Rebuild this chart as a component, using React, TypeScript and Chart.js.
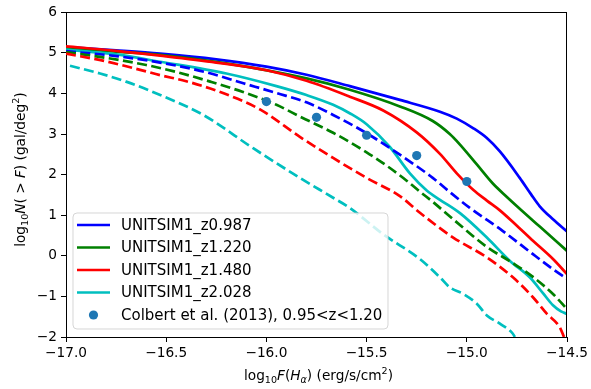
import React, { useEffect, useRef } from "react";
import { Chart, registerables } from "chart.js";
Chart.register(...registerables);

const FONT = '"DejaVu Sans"';
const FS = 13.7;
const LEG_FS = 15;

// ---------- data ----------
const xTicks = [-17.0, -16.5, -16.0, -15.5, -15.0, -14.5];
const yTicks = [-2, -1, 0, 1, 2, 3, 4, 5, 6];

const legendLabels = [
  "UNITSIM1_z0.987",
  "UNITSIM1_z1.220",
  "UNITSIM1_z1.480",
  "UNITSIM1_z2.028",
  "Colbert et al. (2013), 0.95<z<1.20",
];

const blueSolidX = [-17.0, -16.75, -16.53, -16.25, -16.0, -15.8, -15.584, -15.334, -15.134, -15.05, -14.967, -14.9, -14.835, -14.736, -14.68, -14.636, -14.57, -14.5];
const blueSolidY = [5.14, 5.06, 4.98, 4.84, 4.66, 4.46, 4.18, 3.84, 3.55, 3.38, 3.14, 2.9, 2.57, 1.92, 1.52, 1.22, 0.9, 0.6];

const greenSolidX = [-17.0, -16.75, -16.53, -16.2, -15.8, -15.584, -15.334, -15.17, -15.085, -15.034, -14.95, -14.87, -14.8, -14.736, -14.636, -14.5];
const greenSolidY = [5.12, 5.03, 4.95, 4.74, 4.37, 4.09, 3.68, 3.32, 3.0, 2.74, 2.25, 1.78, 1.45, 1.16, 0.72, 0.12];

const redSolidX = [-17.0, -16.75, -16.53, -16.25, -16.0, -15.8, -15.584, -15.417, -15.25, -15.134, -15.05, -14.967, -14.9, -14.835, -14.75, -14.67, -14.57, -14.5];
const redSolidY = [5.16, 5.05, 4.93, 4.76, 4.57, 4.31, 3.92, 3.58, 3.04, 2.51, 2.03, 1.62, 1.36, 1.12, 0.74, 0.37, -0.08, -0.45];

const cyanSolidX = [-17.0, -16.75, -16.53, -16.2, -15.95, -15.8, -15.667, -15.58, -15.5, -15.384, -15.284, -15.2, -15.134, -15.034, -14.9, -14.786, -14.686, -14.62, -14.57, -14.53, -14.5];
const cyanSolidY = [5.08, 4.96, 4.78, 4.49, 4.18, 3.96, 3.72, 3.5, 3.24, 2.68, 2.03, 1.61, 1.38, 1.05, 0.45, -0.12, -0.53, -0.92, -1.22, -1.37, -1.43];

const blueDashX = [-17.0, -16.75, -16.53, -16.3, -16.115, -15.95, -15.8, -15.667, -15.5, -15.334, -15.17, -15.085, -14.985, -14.82, -14.67, -14.57, -14.5];
const blueDashY = [5.04, 4.92, 4.76, 4.52, 4.25, 4.01, 3.78, 3.47, 3.02, 2.49, 1.92, 1.57, 1.18, 0.61, 0.04, -0.33, -0.57];

const greenDashX = [-17.0, -16.78, -16.6, -16.45, -16.28, -16.12, -15.95, -15.833, -15.667, -15.5, -15.4, -15.3, -15.234, -15.17, -15.068, -14.9, -14.77, -14.67, -14.57, -14.5];
const greenDashY = [5.02, 4.86, 4.7, 4.53, 4.29, 4.04, 3.72, 3.43, 3.03, 2.55, 2.22, 1.85, 1.58, 1.33, 0.9, 0.22, -0.18, -0.52, -0.94, -1.31];

const redDashX = [-17.0, -16.81, -16.63, -16.53, -16.4, -16.28, -16.15, -16.03, -15.833, -15.667, -15.5, -15.334, -15.234, -15.068, -14.9, -14.77, -14.67, -14.6, -14.536, -14.515];
const redDashY = [4.98, 4.8, 4.58, 4.45, 4.3, 4.12, 3.88, 3.6, 2.93, 2.41, 1.92, 1.47, 1.06, 0.45, -0.04, -0.53, -1.02, -1.43, -1.76, -2.0];

const cyanDashX = [-16.98, -16.83, -16.7, -16.53, -16.315, -16.066, -15.833, -15.667, -15.584, -15.417, -15.234, -15.134, -15.084, -15.017, -14.95, -14.9, -14.835, -14.77, -14.76];
const cyanDashY = [4.68, 4.49, 4.29, 3.96, 3.47, 2.65, 1.92, 1.43, 1.18, 0.53, -0.08, -0.53, -0.78, -0.94, -1.18, -1.47, -1.67, -1.92, -2.0];

const colbertX = [-16.0, -15.75, -15.5, -15.25, -15.0];
const colbertY = [3.8, 3.41, 2.97, 2.47, 1.83];

// ---------- styles ----------
const BLUE = "#0000ff";
const GREEN = "#008000";
const RED = "#ff0000";
const CYAN = "#00bfbf";
const DOT = "#1f77b4";
const LW = 2.7;
const DASH = [10, 4.4];

const pts = (xs: number[], ys: number[]) => xs.map((x, i) => ({ x, y: ys[i] }));

const lineDs = (xs: number[], ys: number[], color: string, dashed: boolean, order: number) => ({
  data: pts(xs, ys),
  showLine: true,
  borderColor: color,
  backgroundColor: color,
  borderWidth: LW,
  borderDash: dashed ? DASH : [],
  borderCapStyle: "butt",
  borderJoinStyle: "round",
  pointRadius: 0,
  pointHoverRadius: 0,
  fill: false,
  cubicInterpolationMode: "monotone",
  order,
});

type Seg = { t: string; it?: boolean; sub?: boolean; sup?: boolean };

function segFont(s: Seg) {
  const size = s.sub || s.sup ? FS * 0.7 : FS;
  return `${s.it ? "italic " : ""}${size}px ${FONT}`;
}

function drawRich(ctx: CanvasRenderingContext2D, segs: Seg[], cx: number, baseline: number) {
  let total = 0;
  const widths = segs.map((s) => {
    ctx.font = segFont(s);
    const w = ctx.measureText(s.t).width;
    total += w;
    return w;
  });
  let x = cx - total / 2;
  ctx.textAlign = "left";
  ctx.textBaseline = "alphabetic";
  segs.forEach((s, i) => {
    ctx.font = segFont(s);
    let dy = 0;
    if (s.sub) dy = FS * 0.22;
    if (s.sup) dy = -FS * 0.42;
    ctx.fillText(s.t, x, baseline + dy);
    x += widths[i];
  });
}

const xTitle: Seg[] = [
  { t: "log" }, { t: "10", sub: true }, { t: "F", it: true }, { t: "(" }, { t: "H", it: true },
  { t: "α", it: true, sub: true }, { t: ")" }, { t: " (erg/s/cm" }, { t: "2", sup: true }, { t: ")" },
];
const yTitle: Seg[] = [
  { t: "log" }, { t: "10", sub: true }, { t: "N", it: true }, { t: "( > " }, { t: "F", it: true },
  { t: ")" }, { t: " (gal/deg" }, { t: "2", sup: true }, { t: ")" },
];

const legendColors = [BLUE, GREEN, RED, CYAN, DOT];

const decorPlugin = {
  id: "decor",
  afterDatasetsDraw(chart: any) {
    const ctx: CanvasRenderingContext2D = chart.ctx;
    const a = chart.chartArea;
    ctx.save();
    // frame top & right
    ctx.strokeStyle = "#000";
    ctx.lineWidth = 1;
    ctx.beginPath();
    ctx.moveTo(a.left, Math.round(a.top) + 0.5);
    ctx.lineTo(a.right, Math.round(a.top) + 0.5);
    ctx.moveTo(Math.round(a.right) - 0.5, a.top);
    ctx.lineTo(Math.round(a.right) - 0.5, a.bottom);
    ctx.stroke();

    // legend
    const bx = a.left + 7;
    const bw = 315;
    const bh = 116;
    const by = a.bottom - 8 - bh;
    const r = 4;
    ctx.beginPath();
    ctx.moveTo(bx + r, by);
    ctx.lineTo(bx + bw - r, by);
    ctx.arcTo(bx + bw, by, bx + bw, by + r, r);
    ctx.lineTo(bx + bw, by + bh - r);
    ctx.arcTo(bx + bw, by + bh, bx + bw - r, by + bh, r);
    ctx.lineTo(bx + r, by + bh);
    ctx.arcTo(bx, by + bh, bx, by + bh - r, r);
    ctx.lineTo(bx, by + r);
    ctx.arcTo(bx, by, bx + r, by, r);
    ctx.closePath();
    ctx.fillStyle = "rgba(255,255,255,0.8)";
    ctx.fill();
    ctx.strokeStyle = "rgba(204,204,204,0.8)";
    ctx.lineWidth = 1;
    ctx.stroke();

    const rowH = 22.5;
    const y0 = by + 12;
    legendLabels.forEach((lab, i) => {
      const y = y0 + i * rowH;
      if (i < 4) {
        ctx.strokeStyle = legendColors[i];
        ctx.lineWidth = LW;
        ctx.setLineDash([]);
        ctx.beginPath();
        ctx.moveTo(bx + 4, y);
        ctx.lineTo(bx + 37, y);
        ctx.stroke();
      } else {
        ctx.fillStyle = legendColors[i];
        ctx.beginPath();
        ctx.arc(bx + 20.5, y, 4.6, 0, Math.PI * 2);
        ctx.fill();
      }
      ctx.fillStyle = "#000";
      ctx.font = `${LEG_FS}px ${FONT}`;
      ctx.textAlign = "left";
      ctx.textBaseline = "middle";
      ctx.fillText(lab, bx + 48, y + 1);
    });
    ctx.restore();
  },
  afterDraw(chart: any) {
    const ctx: CanvasRenderingContext2D = chart.ctx;
    const a = chart.chartArea;
    ctx.save();
    ctx.fillStyle = "#000";
    drawRich(ctx, xTitle, (a.left + a.right) / 2 + 2, 380);
    ctx.translate(25, (a.top + a.bottom) / 2 - 5);
    ctx.rotate(-Math.PI / 2);
    drawRich(ctx, yTitle, 0, 0);
    ctx.restore();
  },
};

const minus = (s: string) => s.replace("-", "\u2212");

export default function App() {
  const ref = useRef<HTMLCanvasElement>(null);
  useEffect(() => {
    const canvas = ref.current;
    if (!canvas) return;
    const datasets: any[] = [
      {
        data: pts(colbertX, colbertY),
        showLine: false,
        pointRadius: 4.6,
        pointHoverRadius: 4.6,
        pointBackgroundColor: DOT,
        pointBorderWidth: 0,
        backgroundColor: DOT,
        borderColor: DOT,
        order: 0,
      },
      lineDs(blueSolidX, blueSolidY, BLUE, false, 8),
      lineDs(greenSolidX, greenSolidY, GREEN, false, 7),
      lineDs(redSolidX, redSolidY, RED, false, 6),
      lineDs(cyanSolidX, cyanSolidY, CYAN, false, 5),
      lineDs(blueDashX, blueDashY, BLUE, true, 4),
      lineDs(greenDashX, greenDashY, GREEN, true, 3),
      lineDs(redDashX, redDashY, RED, true, 2),
      lineDs(cyanDashX, cyanDashY, CYAN, true, 1),
    ];
    const tickFont = { family: "DejaVu Sans", size: FS };
    const chart = new Chart(canvas, {
      type: "scatter",
      data: { datasets },
      options: {
        animation: false,
        responsive: false,
        devicePixelRatio: 1,
        events: [],
        layout: { padding: { left: 0, right: 24, top: 10, bottom: 0 } },
        plugins: { legend: { display: false }, tooltip: { enabled: false } },
        scales: {
          x: {
            type: "linear",
            min: -17,
            max: -14.5,
            afterBuildTicks: (s: any) => {
              s.ticks = xTicks.map((v) => ({ value: v }));
            },
            afterFit: (s: any) => {
              s.height = 52;
            },
            ticks: {
              autoSkip: false,
              maxRotation: 0,
              color: "#000",
              font: tickFont,
              padding: 3,
              callback: (v: any) => minus(Number(v).toFixed(1)),
            },
            grid: {
              display: true,
              drawOnChartArea: false,
              drawTicks: true,
              tickLength: 5,
              color: "#000",
              lineWidth: 1,
            },
            border: { display: true, color: "#000", width: 1 },
          },
          y: {
            type: "linear",
            min: -2,
            max: 6,
            afterBuildTicks: (s: any) => {
              s.ticks = yTicks.map((v) => ({ value: v }));
            },
            afterFit: (s: any) => {
              s.width = 66;
            },
            ticks: {
              autoSkip: false,
              color: "#000",
              font: tickFont,
              padding: 4,
              callback: (v: any) => minus(String(Math.round(Number(v)))),
            },
            grid: {
              display: true,
              drawOnChartArea: false,
              drawTicks: true,
              tickLength: 5,
              color: "#000",
              lineWidth: 1,
            },
            border: { display: true, color: "#000", width: 1 },
          },
        },
      },
      plugins: [decorPlugin],
    } as any);
    return () => chart.destroy();
  }, []);
  return (
    <div style={{ position: "absolute", left: 0, top: 0, width: 591, height: 389, background: "#fff" }}>
      <canvas ref={ref} width={591} height={389} style={{ display: "block", width: 591, height: 389 }} />
    </div>
  );
}
